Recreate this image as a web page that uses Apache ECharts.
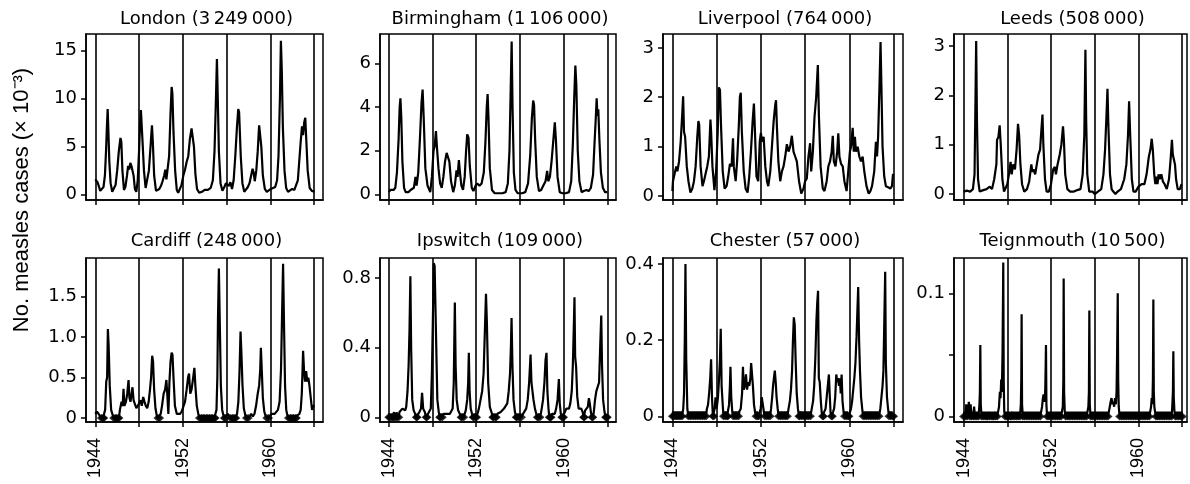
<!DOCTYPE html>
<html>
<head>
<meta charset="utf-8">
<title>Measles cases, eight towns</title>
<script src="https://cdn.jsdelivr.net/npm/echarts@6/dist/echarts.min.js"></script>
<style>
  html, body { margin: 0; padding: 0; background: #fff; }
  #main { width: 1190px; height: 484px; }
</style>
</head>
<body>
<div id="main"></div>
<script>
// panel titles (town and population)
const titles = [
  'London (3\u2009249\u2009000)', 'Birmingham (1\u2009106\u2009000)', 'Liverpool (764\u2009000)', 'Leeds (508\u2009000)',
  'Cardiff (248\u2009000)', 'Ipswitch (109\u2009000)', 'Chester (57\u2009000)', 'Teignmouth (10\u2009500)'
];
const yTicks = [
  [0, 5, 10, 15], [0, 2, 4, 6], [0, 1, 2, 3], [0, 1, 2, 3],
  [0, 0.5, 1, 1.5], [0, 0.4, 0.8], [0, 0.2, 0.4], [0, 0.05, 0.1]
];
const yLabels = [
  ['0', '5', '10', '15'], ['0', '2', '4', '6'], ['0', '1', '2', '3'], ['0', '1', '2', '3'],
  ['0', '0.5', '1.0', '1.5'], ['0', '0.4', '0.8'], ['0', '0.2', '0.4'], ['0', '', '0.1']
];
const xTicks = [1944, 1948, 1952, 1956, 1960, 1964];
const xLabels = [1944, 1952, 1960];

// cases (x 10^-3), [year, value]
const london = [
  [1944.0,1.6],[1944.1,1.4],[1944.2,1.3],[1944.32,0.9],[1944.45,0.4],[1944.6,0.3],[1944.75,0.8],[1944.88,2.0],[1944.98,4.5],[1945.06,7.0],[1945.13,8.9],[1945.2,6.5],[1945.28,3.5],[1945.4,1.2],[1945.55,0.3],[1945.7,0.4],[1945.85,1.0],[1946.0,2.5],[1946.15,4.5],[1946.3,5.9],[1946.38,5.5],[1946.48,2.5],[1946.62,0.5],[1946.75,0.8],[1946.9,2.0],[1947.0,3.0],[1947.1,2.6],[1947.2,3.3],[1947.3,3.0],[1947.4,3.2],[1947.5,2.0],[1947.62,0.6],[1947.75,0.3],[1947.88,1.5],[1948.0,4.5],[1948.1,7.5],[1948.17,8.8],[1948.24,8.6],[1948.32,5.5],[1948.45,2.5],[1948.6,0.7],[1948.75,0.8],[1948.9,2.5],[1949.05,5.0],[1949.18,7.2],[1949.26,5.5],[1949.38,2.0],[1949.55,0.4],[1949.7,0.2],[1949.85,0.6],[1950.0,0.9],[1950.15,1.4],[1950.3,2.0],[1950.4,2.6],[1950.5,1.6],[1950.62,1.5],[1950.75,4.0],[1950.88,8.5],[1950.98,11.2],[1951.05,10.5],[1951.15,6.5],[1951.3,2.5],[1951.45,0.5],[1951.58,0.2],[1951.72,0.3],[1951.88,1.0],[1952.05,2.0],[1952.2,2.6],[1952.35,3.4],[1952.5,4.0],[1952.65,5.8],[1952.8,6.9],[1952.92,6.7],[1953.02,5.0],[1953.15,2.2],[1953.3,0.6],[1953.5,0.2],[1953.75,0.3],[1954.0,0.5],[1954.3,0.5],[1954.55,0.7],[1954.75,1.5],[1954.9,4.5],[1955.02,9.5],[1955.12,14.1],[1955.2,10.0],[1955.3,4.5],[1955.45,1.2],[1955.62,0.4],[1955.8,0.8],[1955.95,1.2],[1956.1,1.4],[1956.2,0.9],[1956.35,1.3],[1956.5,0.6],[1956.65,1.5],[1956.8,4.0],[1956.95,7.0],[1957.07,8.9],[1957.15,8.6],[1957.3,4.0],[1957.45,1.2],[1957.62,0.3],[1957.78,0.3],[1957.95,0.8],[1958.1,1.2],[1958.25,2.0],[1958.38,2.7],[1958.48,2.3],[1958.58,1.4],[1958.72,2.5],[1958.85,4.5],[1958.98,7.2],[1959.08,7.0],[1959.18,5.0],[1959.32,2.0],[1959.5,0.6],[1959.68,0.3],[1959.85,0.5],[1960.05,0.6],[1960.25,0.7],[1960.45,0.8],[1960.62,1.5],[1960.75,4.0],[1960.88,10.0],[1960.97,16.0],[1961.05,13.0],[1961.15,7.0],[1961.3,2.5],[1961.45,0.7],[1961.62,0.3],[1961.8,0.5],[1962.0,0.6],[1962.2,0.5],[1962.38,0.7],[1962.52,1.5],[1962.65,3.5],[1962.78,5.5],[1962.9,7.1],[1963.0,6.2],[1963.1,7.5],[1963.2,8.0],[1963.28,6.0],[1963.42,2.5],[1963.6,0.7],[1963.8,0.4],[1964.05,0.3]
];
const birmingham = [
  [1944.0,0.1],[1944.15,0.2],[1944.3,0.15],[1944.45,0.2],[1944.6,0.3],[1944.75,1.0],[1944.9,2.5],[1945.0,4.0],[1945.07,4.4],[1945.15,3.5],[1945.25,1.5],[1945.4,0.3],[1945.55,0.1],[1945.8,0.1],[1946.0,0.2],[1946.3,0.3],[1946.45,0.8],[1946.55,0.4],[1946.7,1.0],[1946.85,2.5],[1947.0,4.2],[1947.1,4.8],[1947.2,3.5],[1947.35,1.2],[1947.55,0.4],[1947.8,0.1],[1947.95,0.8],[1948.1,2.0],[1948.2,2.2],[1948.32,2.9],[1948.42,2.1],[1948.55,1.2],[1948.7,0.5],[1948.85,0.3],[1949.0,0.8],[1949.15,1.5],[1949.3,1.9],[1949.45,1.95],[1949.55,1.5],[1949.7,0.6],[1949.9,0.1],[1950.05,0.4],[1950.2,1.1],[1950.3,0.8],[1950.42,1.57],[1950.52,1.0],[1950.65,0.4],[1950.8,0.2],[1950.95,0.8],[1951.08,2.0],[1951.18,2.75],[1951.3,2.6],[1951.42,1.3],[1951.6,0.3],[1951.75,0.15],[1951.95,0.4],[1952.1,0.5],[1952.3,0.4],[1952.5,0.5],[1952.7,1.0],[1952.85,2.4],[1952.97,4.0],[1953.05,4.6],[1953.13,3.5],[1953.25,1.2],[1953.45,0.2],[1953.7,0.05],[1954.0,0.05],[1954.4,0.05],[1954.7,0.1],[1954.9,0.5],[1955.05,2.0],[1955.17,5.0],[1955.25,7.0],[1955.33,4.0],[1955.45,1.0],[1955.6,0.2],[1955.8,0.05],[1956.2,0.05],[1956.5,0.1],[1956.75,0.5],[1956.95,1.8],[1957.1,3.5],[1957.22,4.3],[1957.3,4.1],[1957.4,2.5],[1957.55,0.8],[1957.75,0.15],[1957.95,0.2],[1958.15,0.4],[1958.35,0.6],[1958.5,1.07],[1958.6,0.6],[1958.75,0.8],[1958.9,1.5],[1959.05,2.4],[1959.2,3.3],[1959.3,2.5],[1959.45,0.8],[1959.65,0.1],[1959.9,0.05],[1960.2,0.05],[1960.5,0.1],[1960.7,0.6],[1960.85,2.3],[1960.98,4.5],[1961.08,5.9],[1961.17,5.0],[1961.3,2.0],[1961.45,0.6],[1961.65,0.1],[1961.85,0.15],[1962.1,0.2],[1962.3,0.15],[1962.5,0.3],[1962.7,0.9],[1962.85,2.5],[1962.95,3.5],[1963.03,4.4],[1963.1,3.6],[1963.18,3.9],[1963.28,2.5],[1963.42,1.0],[1963.6,0.3],[1963.8,0.1],[1964.0,0.1]
];
const liverpool = [
  [1944.0,0.1],[1944.05,0.3],[1944.15,0.3],[1944.25,0.5],[1944.35,0.6],[1944.45,0.5],[1944.6,0.7],[1944.75,1.1],[1944.9,1.7],[1944.97,2.02],[1945.05,1.3],[1945.15,1.2],[1945.3,0.6],[1945.45,0.3],[1945.63,0.07],[1945.8,0.15],[1945.95,0.3],[1946.1,0.6],[1946.25,1.2],[1946.35,1.52],[1946.42,1.45],[1946.55,0.6],[1946.72,0.2],[1946.85,0.3],[1947.0,0.45],[1947.15,0.6],[1947.3,0.8],[1947.44,1.55],[1947.5,1.3],[1947.62,0.6],[1947.8,0.12],[1947.95,0.5],[1948.1,1.3],[1948.2,2.2],[1948.3,2.15],[1948.4,1.4],[1948.55,0.5],[1948.72,0.15],[1948.9,0.2],[1949.05,0.4],[1949.2,0.65],[1949.35,0.6],[1949.48,1.17],[1949.55,0.6],[1949.72,0.3],[1949.85,0.7],[1950.0,1.4],[1950.1,2.0],[1950.18,2.09],[1950.28,1.3],[1950.45,0.5],[1950.62,0.15],[1950.8,0.07],[1950.95,0.4],[1951.1,0.9],[1951.25,1.5],[1951.37,1.87],[1951.45,1.4],[1951.6,0.4],[1951.76,0.3],[1951.9,1.1],[1952.0,1.28],[1952.1,1.1],[1952.25,1.2],[1952.4,0.6],[1952.55,0.3],[1952.67,0.2],[1952.85,0.5],[1953.0,1.0],[1953.15,1.5],[1953.3,1.85],[1953.37,1.94],[1953.45,1.4],[1953.58,0.7],[1953.75,0.3],[1953.9,0.5],[1954.05,0.6],[1954.2,0.8],[1954.35,1.05],[1954.5,0.9],[1954.65,1.0],[1954.8,1.22],[1954.95,0.9],[1955.1,0.8],[1955.25,0.7],[1955.45,0.3],[1955.65,0.05],[1955.85,0.15],[1956.0,0.3],[1956.15,0.35],[1956.3,0.8],[1956.45,1.07],[1956.55,0.5],[1956.7,0.9],[1956.85,1.6],[1957.0,2.0],[1957.15,2.65],[1957.25,1.6],[1957.4,0.6],[1957.6,0.15],[1957.75,0.1],[1957.95,0.3],[1958.1,0.6],[1958.25,0.7],[1958.4,0.9],[1958.5,1.22],[1958.6,0.7],[1958.75,0.6],[1958.9,0.9],[1959.0,1.27],[1959.1,0.8],[1959.25,0.65],[1959.4,0.6],[1959.55,0.3],[1959.75,0.1],[1959.9,0.5],[1960.05,0.9],[1960.15,1.0],[1960.3,1.38],[1960.4,0.9],[1960.5,1.2],[1960.6,0.9],[1960.75,1.0],[1960.9,0.8],[1961.05,0.7],[1961.2,0.8],[1961.35,0.5],[1961.55,0.2],[1961.75,0.05],[1961.9,0.1],[1962.05,0.2],[1962.25,0.5],[1962.4,1.1],[1962.5,0.8],[1962.6,1.2],[1962.72,2.2],[1962.82,3.12],[1962.9,2.2],[1963.0,1.0],[1963.15,0.4],[1963.3,0.2],[1963.5,0.18],[1963.7,0.15],[1963.85,0.2],[1963.95,0.45]
];
const leeds = [
  [1944.0,0.05],[1944.3,0.07],[1944.6,0.05],[1944.85,0.1],[1945.0,0.4],[1945.08,1.8],[1945.15,3.1],[1945.22,1.5],[1945.32,0.3],[1945.47,0.05],[1945.8,0.08],[1946.1,0.1],[1946.4,0.15],[1946.6,0.1],[1946.8,0.3],[1947.0,0.6],[1947.06,1.1],[1947.18,1.15],[1947.3,1.39],[1947.4,1.0],[1947.55,0.3],[1947.7,0.05],[1947.86,0.05],[1948.0,0.2],[1948.15,0.4],[1948.3,0.65],[1948.4,0.4],[1948.53,0.6],[1948.7,0.5],[1948.85,0.9],[1948.98,1.42],[1949.08,1.2],[1949.2,0.6],[1949.35,0.2],[1949.55,0.05],[1949.8,0.1],[1950.0,0.25],[1950.2,0.6],[1950.3,0.45],[1950.4,0.5],[1950.55,0.4],[1950.7,0.6],[1950.85,0.8],[1951.0,0.9],[1951.12,1.3],[1951.22,1.61],[1951.3,1.0],[1951.45,0.3],[1951.6,0.05],[1951.8,0.05],[1952.0,0.2],[1952.2,0.5],[1952.35,0.55],[1952.45,0.4],[1952.6,0.6],[1952.8,0.8],[1952.95,1.0],[1953.1,1.37],[1953.18,1.1],[1953.3,0.4],[1953.5,0.1],[1953.75,0.05],[1954.1,0.05],[1954.4,0.08],[1954.7,0.1],[1954.9,0.4],[1955.05,1.2],[1955.15,2.92],[1955.22,1.5],[1955.32,0.4],[1955.5,0.05],[1955.8,0.05],[1956.0,0.0],[1956.3,0.05],[1956.6,0.1],[1956.8,0.4],[1956.95,0.9],[1957.08,1.6],[1957.17,2.13],[1957.25,1.4],[1957.4,0.4],[1957.55,0.1],[1957.7,0.05],[1957.9,0.0],[1958.1,0.05],[1958.4,0.1],[1958.7,0.3],[1958.9,0.6],[1959.05,1.2],[1959.15,1.88],[1959.25,1.2],[1959.4,0.3],[1959.55,0.05],[1959.75,0.05],[1960.0,0.15],[1960.3,0.2],[1960.55,0.2],[1960.75,0.4],[1960.95,0.75],[1961.1,0.9],[1961.22,1.12],[1961.32,0.9],[1961.45,0.4],[1961.55,0.2],[1961.65,0.35],[1961.75,0.2],[1961.85,0.4],[1961.95,0.3],[1962.1,0.4],[1962.25,0.25],[1962.4,0.2],[1962.6,0.1],[1962.8,0.3],[1962.95,0.7],[1963.07,1.1],[1963.15,0.8],[1963.25,0.8],[1963.35,0.6],[1963.45,0.3],[1963.6,0.1],[1963.8,0.1],[1963.95,0.2]
];
const cardiff = [
  [1944.0,0.05],[1944.15,0.08],[1944.3,0.05],[1944.45,0.04],[1944.55,0.0],[1944.62,0.03],[1944.7,0.0],[1944.78,0.0],[1944.9,0.1],[1945.0,0.45],[1945.08,0.5],[1945.15,1.1],[1945.22,0.9],[1945.32,0.4],[1945.45,0.1],[1945.58,0.04],[1945.68,0.0],[1945.76,0.02],[1945.84,0.0],[1945.92,0.0],[1946.0,0.02],[1946.08,0.0],[1946.16,0.0],[1946.25,0.1],[1946.4,0.2],[1946.5,0.15],[1946.58,0.36],[1946.66,0.15],[1946.8,0.2],[1946.92,0.3],[1947.04,0.47],[1947.12,0.25],[1947.22,0.2],[1947.32,0.3],[1947.4,0.38],[1947.5,0.22],[1947.62,0.2],[1947.75,0.12],[1947.88,0.1],[1948.0,0.18],[1948.12,0.22],[1948.25,0.15],[1948.38,0.26],[1948.5,0.2],[1948.62,0.15],[1948.75,0.12],[1948.88,0.2],[1949.0,0.35],[1949.1,0.5],[1949.2,0.77],[1949.28,0.7],[1949.38,0.35],[1949.5,0.12],[1949.62,0.03],[1949.72,0.0],[1949.8,0.02],[1949.88,0.0],[1949.98,0.05],[1950.1,0.15],[1950.25,0.3],[1950.38,0.35],[1950.5,0.47],[1950.58,0.3],[1950.68,0.05],[1950.78,0.45],[1950.88,0.7],[1950.98,0.81],[1951.06,0.78],[1951.15,0.5],[1951.28,0.15],[1951.45,0.05],[1951.6,0.03],[1951.75,0.05],[1951.9,0.08],[1952.05,0.1],[1952.2,0.2],[1952.35,0.35],[1952.48,0.5],[1952.57,0.55],[1952.68,0.3],[1952.8,0.35],[1952.95,0.5],[1953.06,0.62],[1953.15,0.4],[1953.28,0.15],[1953.42,0.05],[1953.52,0.0],[1953.6,0.03],[1953.68,0.0],[1953.76,0.0],[1953.84,0.03],[1953.92,0.0],[1954.0,0.0],[1954.08,0.03],[1954.16,0.0],[1954.24,0.0],[1954.32,0.03],[1954.4,0.0],[1954.48,0.0],[1954.56,0.03],[1954.64,0.0],[1954.72,0.0],[1954.8,0.03],[1954.88,0.0],[1954.96,0.0],[1955.08,0.1],[1955.16,0.5],[1955.22,1.25],[1955.3,1.85],[1955.38,1.2],[1955.48,0.4],[1955.6,0.1],[1955.72,0.03],[1955.8,0.0],[1955.88,0.0],[1955.98,0.02],[1956.12,0.05],[1956.26,0.03],[1956.36,0.0],[1956.44,0.02],[1956.52,0.0],[1956.6,0.0],[1956.68,0.02],[1956.76,0.0],[1956.84,0.0],[1956.96,0.05],[1957.08,0.2],[1957.18,0.55],[1957.28,1.07],[1957.36,0.8],[1957.46,0.4],[1957.58,0.12],[1957.72,0.03],[1957.82,0.0],[1957.9,0.02],[1957.98,0.0],[1958.12,0.02],[1958.25,0.05],[1958.4,0.02],[1958.55,0.05],[1958.7,0.15],[1958.85,0.3],[1958.98,0.4],[1959.08,0.6],[1959.14,0.87],[1959.22,0.6],[1959.32,0.25],[1959.45,0.08],[1959.58,0.02],[1959.68,0.0],[1959.76,0.02],[1959.84,0.0],[1959.95,0.02],[1960.1,0.05],[1960.25,0.03],[1960.4,0.05],[1960.55,0.05],[1960.7,0.1],[1960.85,0.2],[1960.98,0.6],[1961.08,1.3],[1961.17,1.91],[1961.25,1.2],[1961.35,0.4],[1961.46,0.1],[1961.58,0.02],[1961.66,0.0],[1961.74,0.03],[1961.82,0.0],[1961.9,0.0],[1961.98,0.03],[1962.06,0.0],[1962.14,0.0],[1962.22,0.03],[1962.3,0.0],[1962.38,0.0],[1962.46,0.03],[1962.54,0.05],[1962.66,0.05],[1962.78,0.1],[1962.88,0.3],[1962.95,0.6],[1963.0,0.83],[1963.08,0.6],[1963.18,0.45],[1963.28,0.58],[1963.38,0.45],[1963.48,0.5],[1963.58,0.4],[1963.7,0.25],[1963.82,0.1],[1963.92,0.12],[1964.0,0.16]
];
const ipswitch = [
  [1944.0,0.0],[1944.06,0.02],[1944.12,0.0],[1944.18,0.02],[1944.24,0.0],[1944.3,0.02],[1944.36,0.0],[1944.42,0.0],[1944.48,0.03],[1944.54,0.0],[1944.6,0.02],[1944.66,0.0],[1944.72,0.03],[1944.78,0.0],[1944.85,0.02],[1944.92,0.0],[1944.98,0.03],[1945.1,0.04],[1945.25,0.05],[1945.4,0.05],[1945.5,0.04],[1945.6,0.06],[1945.72,0.15],[1945.82,0.3],[1945.9,0.5],[1945.98,0.81],[1946.05,0.4],[1946.15,0.1],[1946.28,0.04],[1946.42,0.02],[1946.52,0.0],[1946.6,0.0],[1946.68,0.01],[1946.8,0.03],[1946.95,0.05],[1947.05,0.14],[1947.15,0.05],[1947.3,0.03],[1947.42,0.0],[1947.5,0.0],[1947.6,0.02],[1947.72,0.03],[1947.85,0.05],[1947.95,0.25],[1948.05,0.6],[1948.12,0.885],[1948.2,0.87],[1948.27,0.88],[1948.35,0.4],[1948.45,0.1],[1948.58,0.03],[1948.66,0.0],[1948.74,0.0],[1948.82,0.02],[1948.9,0.0],[1949.0,0.02],[1949.15,0.03],[1949.3,0.02],[1949.45,0.03],[1949.6,0.02],[1949.72,0.02],[1949.85,0.05],[1949.95,0.2],[1950.05,0.66],[1950.12,0.3],[1950.22,0.1],[1950.35,0.04],[1950.5,0.02],[1950.62,0.0],[1950.7,0.0],[1950.78,0.02],[1950.86,0.0],[1950.95,0.02],[1951.05,0.04],[1951.18,0.1],[1951.27,0.2],[1951.33,0.37],[1951.4,0.15],[1951.5,0.05],[1951.62,0.02],[1951.72,0.0],[1951.8,0.0],[1951.88,0.02],[1951.96,0.0],[1952.04,0.0],[1952.12,0.02],[1952.25,0.05],[1952.4,0.1],[1952.55,0.15],[1952.68,0.25],[1952.8,0.5],[1952.9,0.71],[1952.98,0.55],[1953.1,0.2],[1953.25,0.06],[1953.4,0.03],[1953.52,0.0],[1953.6,0.0],[1953.68,0.02],[1953.76,0.0],[1953.84,0.0],[1953.95,0.02],[1954.1,0.02],[1954.25,0.03],[1954.4,0.02],[1954.55,0.05],[1954.7,0.04],[1954.85,0.08],[1954.98,0.15],[1955.1,0.25],[1955.18,0.4],[1955.24,0.57],[1955.32,0.3],[1955.42,0.1],[1955.55,0.03],[1955.66,0.0],[1955.74,0.0],[1955.82,0.02],[1955.9,0.0],[1956.0,0.02],[1956.15,0.0],[1956.3,0.02],[1956.45,0.03],[1956.58,0.05],[1956.72,0.1],[1956.85,0.2],[1956.98,0.36],[1957.06,0.2],[1957.14,0.21],[1957.25,0.1],[1957.38,0.05],[1957.5,0.02],[1957.6,0.0],[1957.68,0.0],[1957.76,0.02],[1957.84,0.0],[1957.92,0.02],[1958.0,0.05],[1958.12,0.1],[1958.25,0.2],[1958.35,0.33],[1958.44,0.37],[1958.52,0.15],[1958.62,0.05],[1958.7,0.0],[1958.78,0.0],[1958.86,0.0],[1958.95,0.02],[1959.08,0.03],[1959.2,0.02],[1959.32,0.05],[1959.45,0.1],[1959.57,0.22],[1959.65,0.08],[1959.75,0.02],[1959.84,0.0],[1959.92,0.0],[1960.0,0.0],[1960.12,0.03],[1960.25,0.05],[1960.38,0.06],[1960.5,0.05],[1960.62,0.08],[1960.75,0.15],[1960.85,0.3],[1960.95,0.55],[1961.0,0.69],[1961.06,0.35],[1961.15,0.29],[1961.25,0.12],[1961.38,0.05],[1961.5,0.04],[1961.62,0.05],[1961.75,0.03],[1961.84,0.0],[1961.9,0.0],[1961.98,0.04],[1962.1,0.05],[1962.22,0.06],[1962.32,0.11],[1962.4,0.08],[1962.5,0.03],[1962.6,0.0],[1962.68,0.0],[1962.75,0.02],[1962.88,0.1],[1963.0,0.15],[1963.12,0.16],[1963.25,0.2],[1963.35,0.4],[1963.45,0.585],[1963.52,0.3],[1963.62,0.1],[1963.75,0.03],[1963.84,0.0],[1963.92,0.0],[1964.0,0.0]
];
const chester = [
  [1944.0,0.0],[1944.06,0.013],[1944.12,0.0],[1944.18,0.013],[1944.25,0.0],[1944.32,0.013],[1944.38,0.0],[1944.44,0.013],[1944.5,0.0],[1944.56,0.013],[1944.62,0.0],[1944.68,0.013],[1944.75,0.0],[1944.82,0.013],[1944.88,0.0],[1944.98,0.02],[1945.05,0.06],[1945.12,0.2],[1945.18,0.4],[1945.25,0.15],[1945.35,0.02],[1945.44,0.0],[1945.52,0.013],[1945.6,0.0],[1945.68,0.013],[1945.76,0.0],[1945.84,0.013],[1945.92,0.0],[1946.0,0.013],[1946.08,0.0],[1946.16,0.013],[1946.24,0.0],[1946.32,0.013],[1946.4,0.0],[1946.48,0.013],[1946.56,0.0],[1946.64,0.013],[1946.72,0.0],[1946.8,0.013],[1946.88,0.0],[1946.96,0.013],[1947.04,0.0],[1947.12,0.02],[1947.22,0.03],[1947.32,0.06],[1947.42,0.1],[1947.5,0.15],[1947.58,0.05],[1947.66,0.0],[1947.74,0.0],[1947.82,0.02],[1947.9,0.05],[1948.0,0.02],[1948.12,0.05],[1948.22,0.1],[1948.3,0.15],[1948.37,0.23],[1948.45,0.08],[1948.55,0.03],[1948.62,0.0],[1948.7,0.013],[1948.78,0.0],[1948.86,0.013],[1948.94,0.0],[1949.02,0.0],[1949.12,0.03],[1949.2,0.08],[1949.25,0.13],[1949.32,0.05],[1949.42,0.01],[1949.5,0.0],[1949.58,0.013],[1949.66,0.0],[1949.74,0.013],[1949.82,0.0],[1949.9,0.013],[1949.98,0.0],[1950.06,0.013],[1950.18,0.02],[1950.3,0.06],[1950.38,0.13],[1950.45,0.07],[1950.55,0.08],[1950.65,0.11],[1950.75,0.07],[1950.85,0.09],[1950.95,0.08],[1951.05,0.1],[1951.12,0.14],[1951.2,0.145],[1951.28,0.08],[1951.38,0.03],[1951.48,0.01],[1951.56,0.0],[1951.64,0.013],[1951.72,0.0],[1951.8,0.0],[1951.88,0.01],[1951.98,0.02],[1952.08,0.05],[1952.18,0.03],[1952.28,0.01],[1952.36,0.0],[1952.44,0.013],[1952.52,0.0],[1952.6,0.013],[1952.68,0.0],[1952.76,0.013],[1952.84,0.0],[1952.92,0.02],[1953.02,0.05],[1953.1,0.08],[1953.18,0.1],[1953.26,0.12],[1953.34,0.09],[1953.42,0.05],[1953.52,0.02],[1953.6,0.0],[1953.68,0.013],[1953.76,0.0],[1953.84,0.013],[1953.92,0.0],[1954.0,0.013],[1954.08,0.0],[1954.16,0.013],[1954.24,0.0],[1954.32,0.013],[1954.4,0.0],[1954.5,0.02],[1954.62,0.04],[1954.72,0.07],[1954.82,0.12],[1954.9,0.2],[1954.98,0.26],[1955.06,0.24],[1955.14,0.15],[1955.24,0.06],[1955.35,0.02],[1955.44,0.0],[1955.52,0.0],[1955.6,0.013],[1955.68,0.0],[1955.76,0.013],[1955.84,0.0],[1955.92,0.013],[1956.0,0.0],[1956.08,0.013],[1956.16,0.0],[1956.24,0.013],[1956.32,0.0],[1956.4,0.013],[1956.48,0.0],[1956.6,0.02],[1956.72,0.04],[1956.82,0.08],[1956.92,0.15],[1957.02,0.25],[1957.1,0.3],[1957.17,0.33],[1957.24,0.1],[1957.32,0.09],[1957.42,0.04],[1957.5,0.01],[1957.58,0.0],[1957.66,0.0],[1957.74,0.013],[1957.85,0.02],[1957.95,0.05],[1958.05,0.08],[1958.15,0.11],[1958.22,0.06],[1958.3,0.01],[1958.38,0.0],[1958.46,0.0],[1958.54,0.013],[1958.62,0.02],[1958.72,0.05],[1958.82,0.11],[1958.9,0.09],[1958.98,0.1],[1959.06,0.08],[1959.14,0.1],[1959.22,0.06],[1959.3,0.11],[1959.38,0.04],[1959.48,0.01],[1959.56,0.0],[1959.64,0.013],[1959.72,0.0],[1959.8,0.013],[1959.88,0.0],[1959.96,0.0],[1960.05,0.01],[1960.15,0.02],[1960.25,0.04],[1960.35,0.07],[1960.45,0.1],[1960.55,0.14],[1960.65,0.21],[1960.73,0.28],[1960.8,0.34],[1960.88,0.2],[1960.96,0.12],[1961.06,0.05],[1961.16,0.02],[1961.24,0.0],[1961.32,0.013],[1961.4,0.0],[1961.48,0.013],[1961.56,0.0],[1961.64,0.013],[1961.72,0.0],[1961.8,0.013],[1961.88,0.0],[1961.96,0.013],[1962.04,0.0],[1962.12,0.013],[1962.2,0.0],[1962.28,0.013],[1962.36,0.0],[1962.44,0.013],[1962.52,0.0],[1962.6,0.013],[1962.68,0.0],[1962.8,0.02],[1962.9,0.05],[1963.0,0.08],[1963.08,0.12],[1963.16,0.25],[1963.24,0.38],[1963.3,0.14],[1963.4,0.05],[1963.5,0.02],[1963.58,0.0],[1963.66,0.013],[1963.74,0.0],[1963.82,0.013],[1963.9,0.0],[1964.0,0.0]
];
const teignmouth = [
  [1944.0,0],[1944.08,0.004],[1944.16,0],[1944.24,0.01],[1944.32,0],[1944.4,0.004],[1944.48,0.012],[1944.56,0],[1944.64,0.01],[1944.72,0],[1944.8,0.004],[1944.88,0],[1944.96,0.008],[1945.04,0],[1945.12,0.004],[1945.2,0],[1945.28,0.004],[1945.36,0],[1945.44,0.008],[1945.49,0.02],[1945.53,0.058],[1945.57,0.01],[1945.64,0],[1945.72,0.004],[1945.8,0],[1945.88,0.004],[1945.96,0],[1946.04,0.004],[1946.12,0],[1946.2,0],[1946.28,0.004],[1946.36,0],[1946.44,0.004],[1946.52,0],[1946.6,0.004],[1946.68,0],[1946.76,0],[1946.84,0.004],[1946.92,0],[1947.0,0.004],[1947.08,0],[1947.16,0.004],[1947.24,0.008],[1947.32,0.02],[1947.38,0.015],[1947.44,0.03],[1947.5,0.02],[1947.56,0.05],[1947.6,0.09],[1947.63,0.125],[1947.67,0.03],[1947.72,0.004],[1947.8,0],[1947.88,0.004],[1947.96,0],[1948.04,0.004],[1948.12,0],[1948.2,0.004],[1948.28,0],[1948.36,0],[1948.44,0.004],[1948.52,0],[1948.6,0.004],[1948.68,0],[1948.76,0.004],[1948.84,0],[1948.92,0.004],[1949.0,0],[1949.08,0.004],[1949.16,0],[1949.24,0.01],[1949.28,0.03],[1949.31,0.083],[1949.35,0.01],[1949.42,0],[1949.5,0.004],[1949.58,0],[1949.66,0.004],[1949.74,0],[1949.82,0.004],[1949.9,0],[1949.98,0.004],[1950.06,0],[1950.14,0.004],[1950.22,0],[1950.3,0.004],[1950.38,0],[1950.46,0.004],[1950.54,0],[1950.62,0.004],[1950.7,0],[1950.78,0.004],[1950.86,0],[1950.94,0.004],[1951.02,0],[1951.1,0.004],[1951.18,0.008],[1951.26,0.015],[1951.32,0.018],[1951.4,0.012],[1951.47,0.02],[1951.51,0.04],[1951.54,0.058],[1951.58,0.01],[1951.64,0],[1951.72,0.004],[1951.8,0],[1951.88,0.004],[1951.96,0],[1952.04,0.004],[1952.12,0],[1952.2,0.004],[1952.28,0],[1952.36,0.004],[1952.44,0],[1952.52,0.004],[1952.6,0],[1952.68,0.004],[1952.76,0],[1952.84,0.004],[1952.92,0],[1953.0,0.004],[1953.08,0.008],[1953.13,0.03],[1953.16,0.112],[1953.2,0.02],[1953.26,0.004],[1953.34,0],[1953.42,0.004],[1953.5,0],[1953.58,0.004],[1953.66,0],[1953.74,0.004],[1953.82,0],[1953.9,0.004],[1953.98,0],[1954.06,0.004],[1954.14,0],[1954.22,0.004],[1954.3,0],[1954.38,0.004],[1954.46,0],[1954.54,0.004],[1954.62,0],[1954.7,0.004],[1954.78,0],[1954.86,0.004],[1954.94,0],[1955.02,0.004],[1955.1,0],[1955.18,0.004],[1955.26,0],[1955.34,0.004],[1955.42,0.008],[1955.47,0.02],[1955.51,0.086],[1955.55,0.01],[1955.62,0],[1955.7,0.004],[1955.78,0],[1955.86,0.004],[1955.94,0],[1956.02,0.004],[1956.1,0],[1956.18,0.004],[1956.26,0],[1956.34,0.004],[1956.42,0],[1956.5,0.004],[1956.58,0],[1956.66,0.004],[1956.74,0],[1956.82,0.004],[1956.9,0],[1956.98,0.004],[1957.06,0],[1957.14,0.004],[1957.22,0],[1957.3,0.004],[1957.38,0.008],[1957.46,0.012],[1957.54,0.015],[1957.62,0.01],[1957.7,0.012],[1957.78,0.008],[1957.86,0.015],[1957.94,0.01],[1958.0,0.02],[1958.05,0.05],[1958.11,0.1],[1958.15,0.03],[1958.2,0.008],[1958.28,0],[1958.36,0.004],[1958.44,0],[1958.52,0.004],[1958.6,0],[1958.68,0.004],[1958.76,0],[1958.84,0.004],[1958.92,0],[1959.0,0.004],[1959.08,0],[1959.16,0.004],[1959.24,0],[1959.32,0.004],[1959.4,0],[1959.48,0.004],[1959.56,0],[1959.64,0.004],[1959.72,0],[1959.8,0.004],[1959.88,0],[1959.96,0.004],[1960.04,0],[1960.12,0.004],[1960.2,0],[1960.28,0.004],[1960.36,0],[1960.44,0.004],[1960.52,0],[1960.6,0.004],[1960.68,0],[1960.76,0.004],[1960.84,0],[1960.92,0.004],[1961.0,0],[1961.08,0.004],[1961.16,0.008],[1961.22,0.015],[1961.28,0.01],[1961.33,0.03],[1961.37,0.095],[1961.41,0.02],[1961.46,0.008],[1961.52,0.004],[1961.6,0],[1961.68,0.004],[1961.76,0],[1961.84,0.004],[1961.92,0],[1962.0,0.004],[1962.08,0],[1962.16,0.004],[1962.24,0],[1962.32,0.004],[1962.4,0],[1962.48,0.004],[1962.56,0],[1962.64,0.004],[1962.72,0],[1962.8,0.004],[1962.88,0],[1962.96,0.004],[1963.04,0],[1963.1,0.008],[1963.16,0.02],[1963.2,0.053],[1963.24,0.015],[1963.3,0.004],[1963.38,0],[1963.46,0.004],[1963.54,0],[1963.62,0.004],[1963.7,0],[1963.78,0.004],[1963.86,0],[1963.94,0.004],[1964.02,0]
];
const towns = [london, birmingham, liverpool, leeds, cardiff, ipswitch, chester, teignmouth];

// layout of the 2 x 4 panels
var cols = [
  { left: 86, width: 237, min: 1943.15, max: 1964.82 },
  { left: 380, width: 236, min: 1943.2, max: 1964.8 },
  { left: 663, width: 240, min: 1943.15, max: 1964.85 },
  { left: 954, width: 233, min: 1943.12, max: 1964.45 }
];
var rows = [ { top: 34, height: 166, titleY: 19 }, { top: 258, height: 164, titleY: 241 } ];
var yRange = [
  [-0.55, 16.7], [-0.26, 7.35], [-0.08, 3.28], [-0.12, 3.24],
  [-0.05, 1.98], [-0.027, 0.915], [-0.015, 0.416], [-0.0044, 0.1287]
];

var black = '#000';
var grids = [], xAxes = [], yAxes = [], series = [], texts = [];

towns.forEach(function (data, i) {
  var c = cols[i % 4], r = rows[Math.floor(i / 4)], bottom = i >= 4;
  grids.push({
    left: c.left, top: r.top, width: c.width, height: r.height,
    show: true, borderColor: black, borderWidth: 1.5, backgroundColor: 'transparent'
  });
  xAxes.push({
    type: 'value', gridIndex: i, min: c.min, max: c.max,
    axisLine: { show: true, onZero: false, lineStyle: { color: black, width: 1.5 } },
    axisTick: { show: true, customValues: xTicks, length: 5, lineStyle: { color: black, width: 1.5 } },
    axisLabel: {
      show: bottom, customValues: xLabels, rotate: 90, margin: 16,
      fontFamily: 'Liberation Sans', fontSize: 18, color: black,
      formatter: function (v) { return String(Math.round(v)); }
    },
    splitLine: { show: false }
  });
  var ticks = yTicks[i], labels = yLabels[i];
  yAxes.push({
    type: 'value', gridIndex: i, min: yRange[i][0], max: yRange[i][1],
    axisLine: { show: true, onZero: false, lineStyle: { color: black, width: 1.5 } },
    axisTick: { show: true, customValues: ticks, length: 5, lineStyle: { color: black, width: 1.5 } },
    axisLabel: {
      customValues: ticks, margin: 9, fontFamily: 'DejaVu Sans', fontSize: 18, color: black,
      formatter: function (v) {
        var k = ticks.findIndex(function (t) { return Math.abs(t - v) < 1e-9; });
        return k >= 0 ? labels[k] : '';
      }
    },
    splitLine: { show: false }
  });
  series.push({
    type: 'line', xAxisIndex: i, yAxisIndex: i, data: data,
    showSymbol: false, lineStyle: { color: black, width: 2.2 },
    markLine: {
      silent: true, symbol: 'none', label: { show: false },
      lineStyle: { color: black, width: 1.6, type: 'solid' },
      data: xTicks.map(function (v) { return { xAxis: v }; })
    }
  });
  // weeks with no cases are marked with diamonds in the lower row
  if (bottom) {
    series.push({
      type: 'scatter', xAxisIndex: i, yAxisIndex: i,
      data: data.filter(function (p) { return p[1] === 0; }),
      symbol: 'diamond', symbolSize: [9, 8], itemStyle: { color: black }, z: 3
    });
  }
  texts.push({
    type: 'text', x: c.left + c.width / 2 + 2, y: r.titleY,
    style: { text: titles[i], font: '18px "DejaVu Sans"', fill: black, align: 'center', verticalAlign: 'middle' }
  });
});

texts.push({
  type: 'text', x: 22, y: 200, rotation: Math.PI / 2,
  style: {
    text: 'No. measles cases (\u00D7 10\u207B\u00B3)', font: '22px "Liberation Sans"',
    fill: black, align: 'center', verticalAlign: 'middle'
  }
});

var myChart = echarts.init(document.getElementById('main'));
myChart.setOption({
  animation: false,
  backgroundColor: '#fff',
  grid: grids,
  xAxis: xAxes,
  yAxis: yAxes,
  series: series,
  graphic: texts
});
</script>
</body>
</html>
